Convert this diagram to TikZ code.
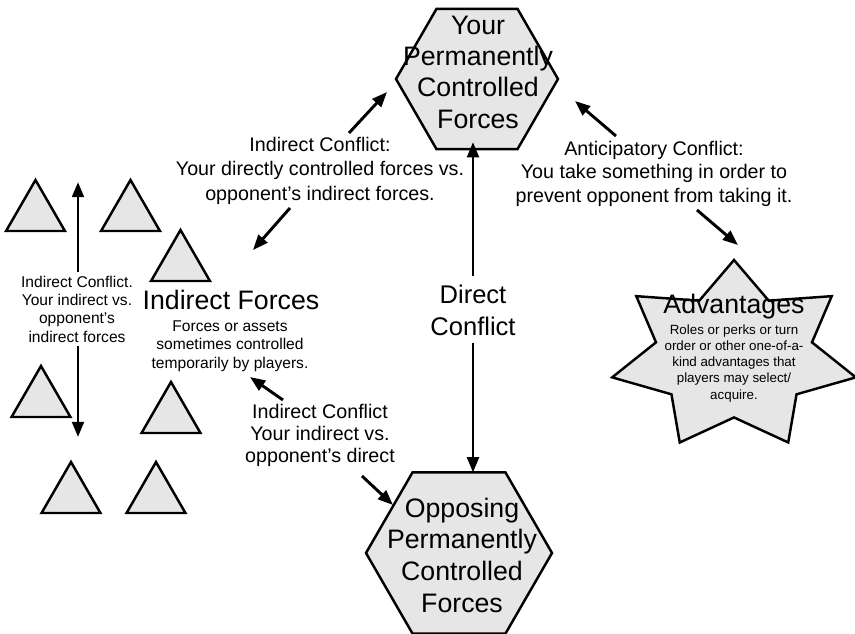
\documentclass[tikz,border=0pt]{standalone}
\usepackage{fontspec}
\setmainfont{Liberation Sans}
\usetikzlibrary{shapes.geometric,arrows.meta}
\definecolor{shapefill}{RGB}{230,230,230}

\begin{document}
\begin{tikzpicture}[x=0.03cm,y=-0.03cm,
  every node/.style={inner sep=0pt,outer sep=0pt},
  hexa/.style={regular polygon,regular polygon sides=6,draw=black,fill=shapefill,line width=2.1pt},
  tri/.style={regular polygon,regular polygon sides=3,draw=black,fill=shapefill,line width=2.1pt,minimum size=2.04cm},
  starsty/.style={draw=black,fill=shapefill,line width=2.1pt,line join=miter},
  arr/.style={line width=2.5pt,-{Triangle[length=13pt,width=10pt]}},
  bigtxt/.style={font=\fontsize{22.8}{26.5}\selectfont,align=center,anchor=base},
  midtxt/.style={font=\fontsize{16.8}{20.5}\selectfont,align=center,anchor=base},
  smalltxt/.style={font=\fontsize{13.3}{15.6}\selectfont,align=center,anchor=base},
  tinytxt/.style={font=\fontsize{11.4}{13.7}\selectfont,align=center,anchor=base}]

\useasboundingbox (0,0) rectangle (855,633);

% the two permanently controlled forces (text placed by its last baseline)
\node[hexa,minimum size=4.86cm] (your) at (477,79) {};
\node[bigtxt] (yourtxt) at (478,128) {Your\\Permanently\\Controlled\\Forces};
\node[hexa,minimum size=5.58cm] (opp) at (459,553) {};
\node[bigtxt,font=\fontsize{22.8}{26.9}\selectfont] (opptxt) at (462,612) {Opposing\\Permanently\\Controlled\\Forces};

% direct conflict between them
\node[anchor=base,align=center,font=\fontsize{21.8}{27.3}\selectfont,inner ysep=7pt] (dc) at (473,335) {Direct\\Conflict};
\draw[arr,shorten >=-6pt] (dc.north) -- (your.south -| dc.north);
\draw[arr] (dc.south) -- (opp.north -| dc.south);

% indirect forces
\node[tri] (t1) at (35.5,214) {};
\node[tri] (t2) at (130.5,214) {};
\node[tri] (t3) at (180.5,264) {};
\node[tri] (t4) at (41,400) {};
\node[tri] (t5) at (171,416) {};
\node[tri] (t6) at (71,496) {};
\node[tri] (t7) at (156,496) {};
\node[bigtxt] (ift) at (231,309) {Indirect Forces};
\node[smalltxt] (ifsub) at (230,368) {Forces or assets\\sometimes controlled\\temporarily by players.};

% indirect vs indirect
\node[smalltxt,inner sep=3pt] (iilab) at (77,342) {Indirect Conflict.\\Your indirect vs.\\opponent's\\indirect forces};
\coordinate (iitop) at (78,182);
\coordinate (iibot) at (78,437);
\draw[arr] (iilab.north -| iitop) -- (iitop);
\draw[arr] (iilab.south -| iibot) -- (iibot);

% direct vs indirect
\node[midtxt] (dilab) at (320,200) {Indirect Conflict:\\Your directly controlled forces vs.\\opponent's indirect forces.};
\coordinate (di1s) at (349,133);
\coordinate (di1e) at (387,92);
\coordinate (di2s) at (290,208);
\coordinate (di2e) at (253,250);
\draw[arr] (di1s) -- (di1e);
\draw[arr] (di2s) -- (di2e);

% indirect vs direct
\node[midtxt,font=\fontsize{16.8}{18.4}\selectfont] (idlab) at (320,462) {Indirect Conflict\\Your indirect vs.\\opponent's direct};
\coordinate (id1s) at (283,400);
\coordinate (id1e) at (250,377);
\coordinate (id2s) at (362,476);
\coordinate (id2e) at (393,505);
\draw[arr] (id1s) -- (id1e);
\draw[arr] (id2s) -- (id2e);

% advantages star: seven points, wider than tall
\coordinate (sc) at (734,356);
\begin{scope}[shift={(sc)}]
  \draw[starsty] (0,-96)
    \foreach \k [evaluate=\k as \rr using {1-0.36*mod(\k,2)},
                 evaluate=\k as \a using {-90+\k*360/14}] in {1,...,13} {
      -- ({125*\rr*cos(\a)},{96*\rr*sin(\a)}) } -- cycle;
\end{scope}
\node[bigtxt] (adv) at (734,313) {Advantages};
\node[tinytxt] (advsub) at (734,399) {Roles or perks or turn\\order or other one-of-a-\\kind advantages that\\players may select/\\acquire.};

% anticipatory conflict
\node[midtxt,font=\fontsize{16.8}{20}\selectfont] (aclab) at (654,202) {Anticipatory Conflict:\\You take something in order to\\prevent opponent from taking it.};
\coordinate (ac1s) at (616,136);
\coordinate (ac1e) at (575,101);
\coordinate (ac2s) at (697,210);
\coordinate (ac2e) at (738,245);
\draw[arr] (ac1s) -- (ac1e);
\draw[arr] (ac2s) -- (ac2e);
\end{tikzpicture}
\end{document}
